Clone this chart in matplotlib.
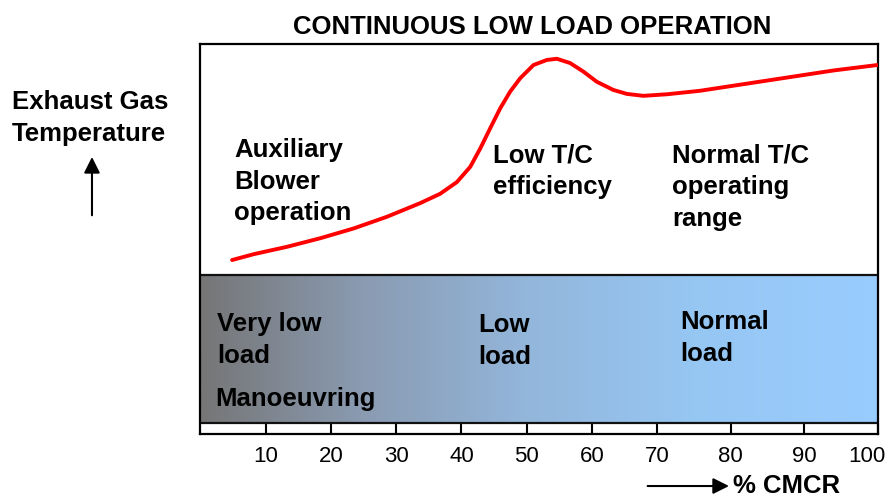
import matplotlib
matplotlib.use("Agg")
import matplotlib.pyplot as plt
import matplotlib.transforms as mtransforms
from matplotlib.colors import LinearSegmentedColormap
from matplotlib.patches import FancyArrowPatch
import numpy as np

plt.rcParams['font.family'] = ['Liberation Sans', 'DejaVu Sans']

# % CMCR vs. relative exhaust gas temperature
load = [4.85, 8.16, 13.28, 18.38, 23.48, 28.59, 33.69, 36.75, 39.31, 41.35,
        42.88, 44.41, 45.94, 47.47, 49.0, 51.04, 53.09, 54.62, 56.66, 58.70,
        60.75, 63.29, 65.34, 67.89, 71.32, 75.83, 80.35, 84.88, 89.40, 93.92,
        99.9]
temp = [44.6, 46.1, 48.0, 50.2, 52.7, 55.7, 59.2, 61.6, 64.6, 68.5,
        73.2, 78.4, 83.5, 87.8, 91.2, 94.6, 95.9, 96.2, 95.1, 92.9,
        90.3, 88.2, 87.2, 86.7, 87.1, 88.0, 89.3, 90.6, 91.9, 93.2,
        94.6]

ticks = [10, 20, 30, 40, 50, 60, 70, 80, 90, 100]
band_grad = ['#767676', '#8a9bb2', '#93b6db', '#96c6f2', '#99ccff']

title = 'CONTINUOUS LOW LOAD OPERATION'
ylabel = 'Exhaust Gas\nTemperature'
xlabel = '% CMCR'

fig = plt.figure(figsize=(8.87, 4.99), dpi=100)
ax = fig.add_axes([0.226, 0.1303, 0.764, 0.7816])

# the original axis is not quite linear: 0-70 squeezed a little vs 70-100
def fwd(x):
    return np.interp(x, [0, 70, 100], [0, 457.1, 678.2])

def inv(x):
    return np.interp(x, [0, 457.1, 678.2], [0, 70, 100])

ax.set_xscale('function', functions=(fwd, inv))
ax.set_xlim(0, 100)
ax.set_ylim(0, 100)

band_lo, band_hi = 2.9, 40.8
cmap = LinearSegmentedColormap.from_list('band', band_grad)
grad = np.linspace(0, 1, 256).reshape(1, -1)
ax.imshow(grad, cmap=cmap, aspect='auto', extent=[0, 100, band_lo, band_hi],
          zorder=0)
ax.axhline(band_lo, color='#111111', lw=1.6, zorder=2)
ax.axhline(band_hi, color='#111111', lw=1.6, zorder=2)

ax.plot(load, temp, color='#ff0000', lw=2.8, solid_capstyle='round',
        solid_joinstyle='round', zorder=3)

ax.set_xticks(ticks)
ax.set_xticklabels([str(t) for t in ticks])
ax.set_yticks([])
ax.tick_params(axis='x', direction='in', length=8, width=1.5, pad=8.5,
               labelsize=16, colors='black')
for s in ax.spines.values():
    s.set_linewidth(1.6)
    s.set_color('black')

last = ax.get_xticklabels()[-1]
last.set_transform(last.get_transform() +
                   mtransforms.ScaledTranslation(-0.11, 0, fig.dpi_scale_trans))

bold = dict(fontsize=18.5, fontweight='bold', ha='left', va='top',
            linespacing=1.4, zorder=4)
ax.text(5.2, 75.9, 'Auxiliary\nBlower\noperation', **bold)
ax.text(44.8, 74.5, 'Low T/C\nefficiency', **bold)
ax.text(72.0, 74.4, 'Normal T/C\noperating\nrange', **bold)
ax.text(2.6, 31.3, 'Very low\nload', **bold)
ax.text(2.3, 12.1, 'Manoeuvring', **bold)
ax.text(42.6, 31.0, 'Low\nload', **bold)
ax.text(73.1, 31.8, 'Normal\nload', **bold)

fig.text(0.6, 0.945, title, fontsize=18.5, fontweight='bold',
         ha='center', va='center')
fig.text(0.0135, 0.764, ylabel, fontsize=18.5, fontweight='bold',
         ha='left', va='center', linespacing=1.4)
fig.text(0.826, 0.027, xlabel, fontsize=18.5, fontweight='bold',
         ha='left', va='center')

fig.add_artist(FancyArrowPatch(
    (0.1037, 0.563), (0.1037, 0.691), transform=fig.transFigure,
    arrowstyle='-|>', mutation_scale=24, lw=1.5, color='black'))
fig.add_artist(FancyArrowPatch(
    (0.727, 0.026), (0.825, 0.026), transform=fig.transFigure,
    arrowstyle='-|>', mutation_scale=24, lw=1.5, color='black'))

fig.savefig('out.png', dpi=100)
